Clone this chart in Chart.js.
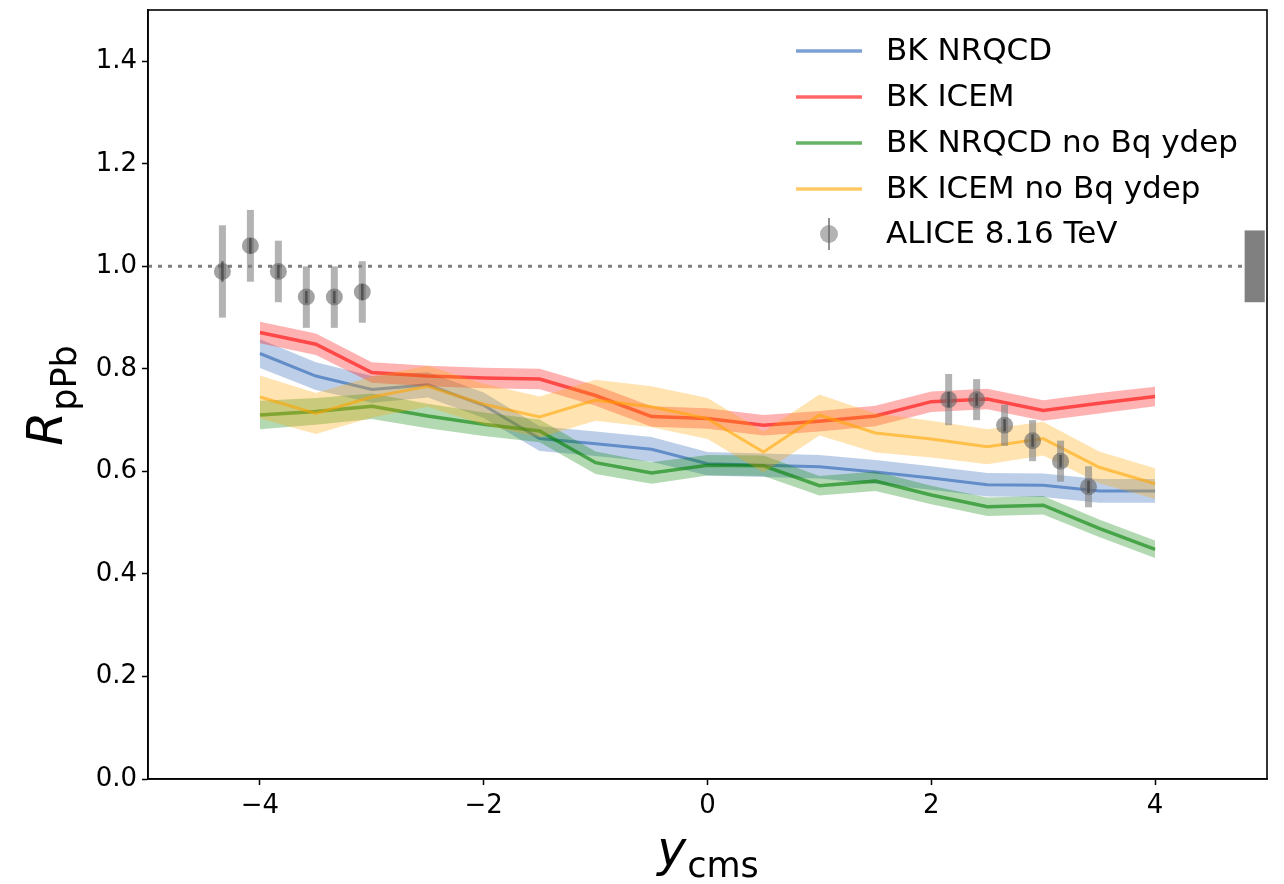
<!DOCTYPE html>
<html>
<head>
<meta charset="utf-8">
<script src="https://cdn.jsdelivr.net/npm/chart.js@4.4.1/dist/chart.umd.min.js"></script>
<style>
  html, body { margin: 0; padding: 0; background: #fff; }
  #wrap { width: 1284px; height: 884px; }
</style>
</head>
<body>
<div id="wrap"><canvas id="rpPb"></canvas></div>
<script>
// rapidity grid of the BK curves
const yModel = [-4, -3.5, -3, -2.5, -2, -1.5, -1, -0.5, 0, 0.5, 1, 1.5, 2, 2.5, 3, 3.5, 4];

// central values
const bkNrqcd = [0.830, 0.786, 0.760, 0.769, 0.729, 0.664, 0.654, 0.643, 0.615, 0.612, 0.609, 0.599, 0.587, 0.574, 0.573, 0.562, 0.562];
const bkIcem = [0.871, 0.848, 0.793, 0.786, 0.782, 0.780, 0.748, 0.707, 0.703, 0.690, 0.698, 0.708, 0.736, 0.741, 0.719, 0.733, 0.746];
const bkNrqcdNoBq = [0.710, 0.717, 0.727, 0.708, 0.692, 0.679, 0.617, 0.597, 0.612, 0.611, 0.572, 0.581, 0.554, 0.531, 0.534, 0.489, 0.448];
const bkIcemNoBq = [0.745, 0.713, 0.745, 0.766, 0.731, 0.706, 0.739, 0.726, 0.703, 0.638, 0.710, 0.675, 0.663, 0.648, 0.664, 0.608, 0.576];

// half widths of the uncertainty bands
const bandNrqcd = [0.028, 0.027, 0.026, 0.025, 0.025, 0.024, 0.024, 0.024, 0.023, 0.023, 0.023, 0.023, 0.023, 0.023, 0.023, 0.023, 0.023];
const bandIcem = [0.021, 0.021, 0.02, 0.02, 0.02, 0.02, 0.02, 0.02, 0.02, 0.02, 0.02, 0.02, 0.02, 0.02, 0.02, 0.02, 0.019];
const bandNrqcdNoBq = [0.028, 0.026, 0.025, 0.024, 0.023, 0.022, 0.022, 0.021, 0.02, 0.02, 0.019, 0.019, 0.018, 0.018, 0.018, 0.017, 0.017];
const bandIcemNoBq = [0.042, 0.04, 0.04, 0.04, 0.04, 0.04, 0.04, 0.04, 0.04, 0.04, 0.04, 0.038, 0.036, 0.034, 0.033, 0.031, 0.03];

// ALICE 8.16 TeV
const aliceY = [-4.335, -4.085, -3.835, -3.585, -3.335, -3.085, 2.155, 2.405, 2.655, 2.905, 3.155, 3.405];
const aliceR = [0.99, 1.04, 0.99, 0.94, 0.94, 0.95, 0.74, 0.74, 0.69, 0.66, 0.62, 0.57];
const aliceSys = [0.09, 0.07, 0.06, 0.06, 0.06, 0.06, 0.05, 0.04, 0.04, 0.04, 0.04, 0.04];
const aliceStat = [0.02, 0.015, 0.013, 0.012, 0.012, 0.016, 0.015, 0.012, 0.012, 0.012, 0.012, 0.012];

// global normalisation box at the right edge
const normBoxY = [0.93, 1.07];
const normBoxX = [4.8, 4.98];

const xTicks = [-4, -2, 0, 2, 4];
const yTicks = [0.0, 0.2, 0.4, 0.6, 0.8, 1.0, 1.2, 1.4];

const models = [
    { label: 'BK NRQCD', vals: bkNrqcd, band: bandNrqcd, rgb: '38,97,180', lw: 3 },
    { label: 'BK ICEM', vals: bkIcem, band: bandIcem, rgb: '255,0,0', lw: 3.5 },
    { label: 'BK NRQCD no Bq ydep', vals: bkNrqcdNoBq, band: bandNrqcdNoBq, rgb: '0,128,0', lw: 3.5 },
    { label: 'BK ICEM no Bq ydep', vals: bkIcemNoBq, band: bandIcemNoBq, rgb: '255,165,0', lw: 3 }
];

const FONT = "'DejaVu Sans', sans-serif";

function pts(xs, ys) {
    return xs.map((x, i) => ({ x: x, y: ys[i] }));
}

const datasets = [];
let ord = 100;

// dotted line at 1
datasets.push({
    label: 'unity',
    data: [{ x: -5, y: 1 }, { x: 5, y: 1 }],
    borderColor: 'rgb(128,128,128)',
    borderWidth: 3,
    borderDash: [4, 6],
    pointRadius: 0,
    fill: false,
    order: ord--
});

models.forEach(m => {
    datasets.push({
        label: m.label + ' hi',
        data: pts(yModel, m.vals.map((v, i) => v + m.band[i])),
        borderWidth: 0,
        borderColor: 'rgba(0,0,0,0)',
        pointRadius: 0,
        fill: false,
        order: ord--
    });
    datasets.push({
        label: m.label + ' lo',
        data: pts(yModel, m.vals.map((v, i) => v - m.band[i])),
        borderWidth: 0,
        borderColor: 'rgba(0,0,0,0)',
        backgroundColor: 'rgba(' + m.rgb + ',0.3)',
        pointRadius: 0,
        fill: '-1',
        order: ord--
    });
    datasets.push({
        label: m.label,
        data: pts(yModel, m.vals),
        borderColor: 'rgba(' + m.rgb + ',0.6)',
        borderWidth: m.lw,
        pointRadius: 0,
        fill: false,
        order: ord--
    });
});

const aliceIndex = datasets.length;
datasets.push({
    label: 'ALICE 8.16 TeV',
    type: 'scatter',
    data: pts(aliceY, aliceR),
    pointRadius: 8.5,
    backgroundColor: 'rgba(100,100,100,0.6)',
    borderWidth: 0,
    order: ord--
});

const extras = {
    id: 'extras',
    beforeDatasetDraw(chart, args) {
        if (args.index !== aliceIndex) return;
        const ctx = chart.ctx, xs = chart.scales.x, ys = chart.scales.y;
        ctx.save();
        ctx.fillStyle = 'rgba(128,128,128,0.6)';
        aliceY.forEach((x, i) => {
            const px = xs.getPixelForValue(x);
            const top = ys.getPixelForValue(aliceR[i] + aliceSys[i]);
            const bot = ys.getPixelForValue(aliceR[i] - aliceSys[i]);
            ctx.fillRect(px - 3.5, top, 7, bot - top);
        });
        ctx.restore();
    },
    afterDatasetDraw(chart, args) {
        if (args.index !== aliceIndex) return;
        const ctx = chart.ctx, xs = chart.scales.x, ys = chart.scales.y;
        ctx.save();
        ctx.strokeStyle = 'rgba(50,50,50,0.6)';
        ctx.lineWidth = 2.5;
        aliceY.forEach((x, i) => {
            const px = xs.getPixelForValue(x);
            ctx.beginPath();
            ctx.moveTo(px, ys.getPixelForValue(aliceR[i] + aliceStat[i]));
            ctx.lineTo(px, ys.getPixelForValue(aliceR[i] - aliceStat[i]));
            ctx.stroke();
        });
        ctx.restore();
    },
    afterDraw(chart) {
        const ctx = chart.ctx, xs = chart.scales.x, ys = chart.scales.y;
        const a = chart.chartArea;
        ctx.save();

        // normalisation box
        ctx.fillStyle = 'rgb(128,128,128)';
        const bx0 = xs.getPixelForValue(normBoxX[0]), bx1 = xs.getPixelForValue(normBoxX[1]);
        const by0 = ys.getPixelForValue(normBoxY[1]), by1 = ys.getPixelForValue(normBoxY[0]);
        ctx.fillRect(bx0, by0, bx1 - bx0, by1 - by0);

        // frame
        ctx.strokeStyle = '#000';
        ctx.lineWidth = 1.6;
        ctx.strokeRect(a.left, a.top, a.right - a.left, a.bottom - a.top);

        // legend
        const lx0 = 796, lx1 = 862, tx = 886;
        const rows = [51, 97, 143, 189, 234];
        ctx.font = '31px ' + FONT;
        ctx.textBaseline = 'middle';
        ctx.textAlign = 'left';
        models.forEach((m, i) => {
            ctx.strokeStyle = 'rgba(' + m.rgb + ',0.6)';
            ctx.lineWidth = 3.5;
            ctx.beginPath();
            ctx.moveTo(lx0, rows[i]);
            ctx.lineTo(lx1, rows[i]);
            ctx.stroke();
            ctx.fillStyle = '#000';
            ctx.fillText(m.label, tx, rows[i] + 1);
        });
        const mx = (lx0 + lx1) / 2, my = rows[4];
        ctx.fillStyle = 'rgba(128,128,128,0.6)';
        ctx.beginPath();
        ctx.arc(mx, my, 9, 0, Math.PI * 2);
        ctx.fill();
        ctx.strokeStyle = 'rgba(100,100,100,0.7)';
        ctx.lineWidth = 2;
        ctx.beginPath();
        ctx.moveTo(mx, my - 16);
        ctx.lineTo(mx, my + 16);
        ctx.stroke();
        ctx.fillStyle = '#000';
        ctx.fillText('ALICE 8.16 TeV', tx, my + 1);

        // x title: y_cms
        ctx.textBaseline = 'alphabetic';
        const fBig = 'italic 49px ' + FONT, fSub = '35px ' + FONT;
        ctx.font = fBig;
        const wy = ctx.measureText('y').width;
        ctx.font = fSub;
        const wc = ctx.measureText('cms').width;
        const cx = (a.left + a.right) / 2;
        let sx = cx - (wy + wc) / 2;
        ctx.font = fBig;
        ctx.fillText('y', sx, 866);
        ctx.font = fSub;
        ctx.fillText('cms', sx + wy + 1, 877);

        // y title: R_pPb
        ctx.translate(62, 396);
        ctx.rotate(-Math.PI / 2);
        ctx.font = fBig;
        const wr = ctx.measureText('R').width;
        ctx.font = fSub;
        const wp = ctx.measureText('pPb').width;
        sx = -(wr + wp) / 2;
        ctx.font = fBig;
        ctx.fillText('R', sx, 0);
        ctx.font = fSub;
        ctx.fillText('pPb', sx + wr + 1, 14);

        ctx.restore();
    }
};

function fmtX(v) {
    return String(v).replace('-', '\u2212');
}

new Chart(document.getElementById('rpPb'), {
    type: 'line',
    data: { datasets: datasets },
    options: {
        responsive: true,
        maintainAspectRatio: false,
        animation: false,
        layout: { padding: { top: 10, right: 17, left: 0, bottom: 0 } },
        plugins: { legend: { display: false }, tooltip: { enabled: false } },
        scales: {
            x: {
                type: 'linear',
                min: -5,
                max: 5,
                afterBuildTicks: s => { s.ticks = xTicks.map(v => ({ value: v })); },
                afterFit: s => { s.height = 105; s.paddingLeft = 0; s.paddingRight = 0; },
                grid: { drawOnChartArea: false, drawTicks: true, tickLength: 6, tickColor: '#000', tickWidth: 1.5 },
                border: { display: true, color: '#000', width: 1.6 },
                ticks: {
                    color: '#000',
                    font: { family: FONT, size: 26 },
                    padding: 6,
                    maxRotation: 0,
                    callback: v => fmtX(v)
                }
            },
            y: {
                type: 'linear',
                min: 0,
                max: 1.5,
                afterBuildTicks: s => { s.ticks = yTicks.map(v => ({ value: v })); },
                afterFit: s => { s.width = 148; s.paddingTop = 0; s.paddingBottom = 0; },
                grid: { drawOnChartArea: false, drawTicks: true, tickLength: 6, tickColor: '#000', tickWidth: 1.5 },
                border: { display: true, color: '#000', width: 1.6 },
                ticks: {
                    color: '#000',
                    font: { family: FONT, size: 26 },
                    padding: 5,
                    callback: v => v.toFixed(1)
                }
            }
        }
    },
    plugins: [extras]
});
</script>
</body>
</html>
